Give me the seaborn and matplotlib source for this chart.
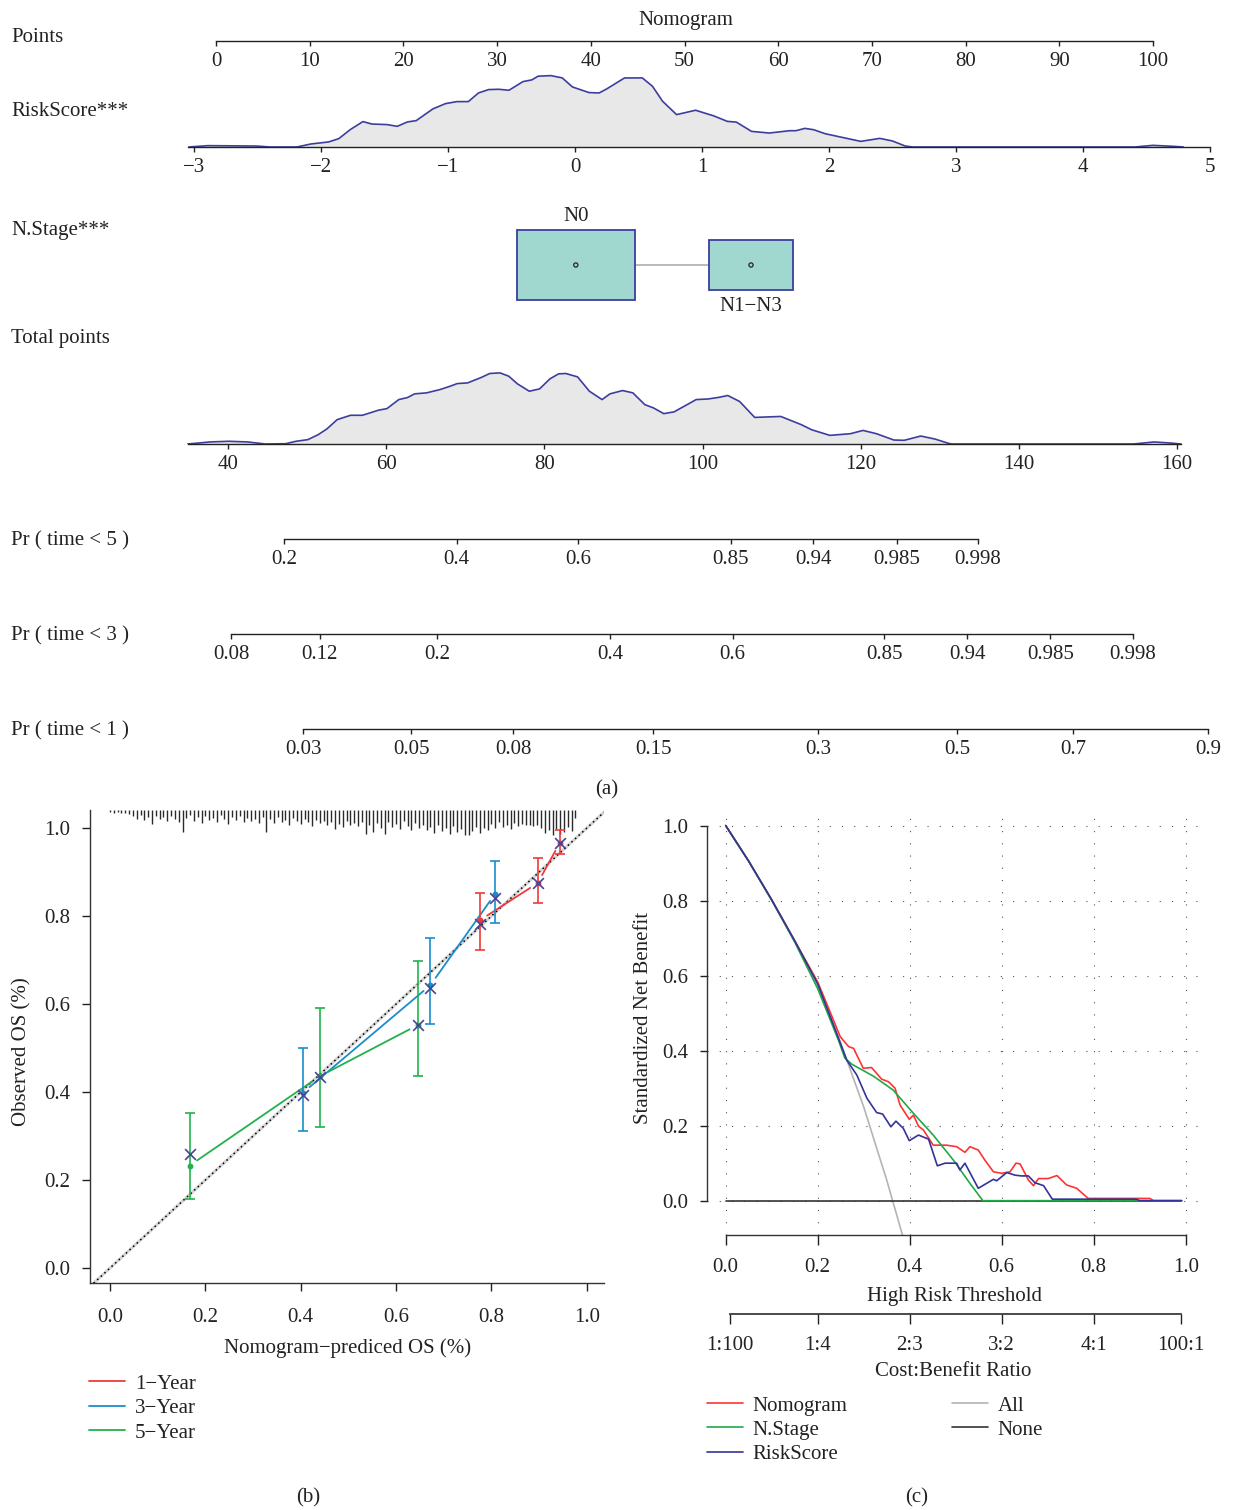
import numpy as np
import pandas as pd
import matplotlib
matplotlib.use("Agg")
import matplotlib.pyplot as plt
import seaborn as sns

# --------------------------------
# Data
# --------------------------------

# (a) nomogram scales
points_ticks = [0, 10, 20, 30, 40, 50, 60, 70, 80, 90, 100]
riskscore_ticks = [-3, -2, -1, 0, 1, 2, 3, 4, 5]
total_ticks = [40, 60, 80, 100, 120, 140, 160]

riskscore_x = [-3.04, -2.89, -2.51, -2.40, -2.19, -2.08, -1.94, -1.86, -1.77, -1.67,
               -1.60, -1.48, -1.40, -1.32, -1.25, -1.12, -1.02, -0.93, -0.84, -0.76,
               -0.68, -0.60, -0.52, -0.41, -0.34, -0.29, -0.19, -0.10, -0.02, 0.11,
               0.19, 0.25, 0.39, 0.53, 0.61, 0.69, 0.80, 0.95, 1.03, 1.09,
               1.20, 1.27, 1.39, 1.53, 1.69, 1.74, 1.81, 1.88, 1.97, 2.09,
               2.25, 2.40, 2.50, 2.60, 2.66, 4.41, 4.55, 4.71, 4.79]
riskscore_dens = [0, 1.4, 1.0, 0, 0, 3.1, 5.2, 8.6, 17.9, 26.2,
                  23.7, 23.1, 21.3, 25.8, 27.2, 39.2, 44.7, 46.8, 46.8, 55.7,
                  59.2, 59.5, 58.5, 67.4, 69.2, 73.0, 73.6, 71.2, 61.9, 56.1,
                  55.7, 59.9, 71.2, 71.2, 62.6, 47.1, 33.4, 37.9, 34.6, 32.2,
                  26.4, 25.7, 16.1, 14.4, 16.8, 16.8, 19.2, 17.8, 13.7, 10.3,
                  5.8, 8.9, 6.2, 1.0, 0, 0, 1.7, 0.7, 0]

total_x = [34.9, 37.7, 40.1, 42.5, 44.7, 47.3, 48.6, 50.1, 51.4, 52.5,
           53.8, 55.5, 57.0, 59.0, 60.1, 61.6, 62.7, 63.6, 65.1, 66.8,
           68.1, 69.0, 70.3, 72.0, 73.1, 74.4, 75.5, 76.6, 78.1, 79.4,
           80.7, 81.8, 82.7, 84.2, 85.7, 87.3, 88.3, 89.9, 91.2, 92.7,
           93.8, 95.1, 96.4, 97.9, 99.2, 100.7, 102.0, 103.2, 104.7, 106.6,
           109.9, 112.5, 113.8, 116.1, 118.7, 120.3, 122.0, 124.2, 125.5, 127.6,
           129.4, 131.1, 131.5, 154.5, 157.1, 159.2, 160.5]
total_dens = [0, 2.1, 2.8, 2.1, 0, 0.3, 2.8, 4.5, 9.6, 15.5,
              25.1, 29.6, 29.6, 34.8, 36.5, 45.8, 47.9, 51.7, 52.7, 56.1,
              59.6, 62.3, 63.0, 68.5, 72.7, 73.3, 69.9, 62.0, 54.4, 56.8,
              67.1, 72.3, 72.7, 69.2, 54.4, 45.8, 51.7, 55.1, 52.7, 40.6,
              37.2, 31.3, 33.1, 39.9, 45.8, 46.4, 48.0, 50.0, 43.8, 27.4,
              28.4, 19.9, 14.7, 8.9, 10.6, 14.0, 10.6, 4.1, 3.8, 8.2,
              5.1, 0.7, 0, 0, 2.1, 1.0, 0]

nstage_levels = ["N0", "N1\u2212N3"]
nstage_points = [38.4, 57.1]
nstage_width = [12.6, 9.0]
nstage_height = [70, 50]

pr5_labels = ["0.2", "0.4", "0.6", "0.85", "0.94", "0.985", "0.998"]
pr5_pos = [47.1, 68.9, 84.3, 103.6, 114.0, 124.6, 134.8]
pr3_labels = ["0.08", "0.12", "0.2", "0.4", "0.6", "0.85", "0.94", "0.985", "0.998"]
pr3_pos = [40.4, 51.6, 66.4, 88.3, 103.8, 123.0, 133.5, 144.0, 154.4]
pr1_labels = ["0.03", "0.05", "0.08", "0.15", "0.3", "0.5", "0.7", "0.9"]
pr1_pos = [49.5, 63.2, 76.1, 93.8, 114.6, 132.2, 146.9, 163.9]

# (b) calibration
cal_years = ["1\u2212Year", "3\u2212Year", "5\u2212Year"]
cal_pred = [[0.775, 0.897, 0.943], [0.404, 0.672, 0.808], [0.167, 0.440, 0.645]]
cal_obs = [[0.790, 0.875, 0.966], [0.398, 0.643, 0.851], [0.233, 0.436, 0.552]]
cal_lo = [[0.722, 0.830, 0.942], [0.312, 0.554, 0.785], [0.156, 0.321, 0.437]]
cal_hi = [[0.852, 0.933, 0.995], [0.499, 0.751, 0.925], [0.352, 0.592, 0.698]]
cal_corr = [[0.783, 0.874, 0.967], [0.393, 0.637, 0.840], [0.259, 0.435, 0.552]]

rug_pred = [0.000, 0.008, 0.016, 0.024, 0.032, 0.040, 0.048, 0.056, 0.064, 0.072,
            0.080, 0.088, 0.096, 0.104, 0.112, 0.120, 0.128, 0.136, 0.144, 0.152,
            0.160, 0.168, 0.176, 0.184, 0.192, 0.200, 0.208, 0.216, 0.224, 0.232,
            0.240, 0.248, 0.256, 0.264, 0.272, 0.280, 0.288, 0.296, 0.304, 0.312,
            0.320, 0.328, 0.336, 0.344, 0.352, 0.360, 0.368, 0.376, 0.384, 0.392,
            0.400, 0.408, 0.416, 0.424, 0.432, 0.440, 0.448, 0.456, 0.464, 0.472,
            0.480, 0.488, 0.496, 0.504, 0.512, 0.520, 0.528, 0.536, 0.544, 0.552,
            0.560, 0.568, 0.576, 0.584, 0.592, 0.600, 0.608, 0.616, 0.624, 0.632,
            0.640, 0.648, 0.656, 0.664, 0.672, 0.680, 0.688, 0.696, 0.704, 0.712,
            0.720, 0.728, 0.736, 0.744, 0.752, 0.760, 0.768, 0.776, 0.784, 0.792,
            0.800, 0.808, 0.816, 0.824, 0.832, 0.840, 0.848, 0.856, 0.864, 0.872,
            0.880, 0.888, 0.896, 0.904, 0.912, 0.920, 0.928, 0.936, 0.944, 0.952,
            0.960, 0.968, 0.976]
rug_len = [2, 3, 2, 3, 3, 4, 6, 9, 5, 10,
           7, 14, 6, 9, 7, 11, 6, 9, 12, 22,
           8, 5, 11, 7, 13, 6, 10, 8, 12, 5,
           9, 14, 7, 10, 6, 12, 8, 11, 9, 13,
           7, 22, 9, 13, 7, 12, 10, 15, 8, 11,
           14, 9, 12, 16, 10, 13, 11, 15, 12, 19,
           14, 17, 11, 15, 13, 16, 12, 24, 15, 22,
           13, 18, 24, 12, 17, 14, 19, 11, 16, 20,
           13, 18, 15, 20, 17, 23, 15, 21, 18, 24,
           16, 22, 19, 25, 25, 21, 17, 23, 18, 20,
           14, 18, 12, 17, 15, 19, 13, 16, 14, 15,
           15, 16, 15, 18, 23, 20, 25, 19, 24, 22,
           17, 21, 8]

# (c) decision curves
thr_all = [0.0, 0.05, 0.10, 0.15, 0.20, 0.25, 0.30, 0.35, 0.385]
nb_all = [1.0, 0.905, 0.800, 0.690, 0.570, 0.420, 0.250, 0.055, -0.095]
thr_none = [0.0, 0.99]
nb_none = [0.0, 0.0]

thr_nomo = [0.0, 0.05, 0.10, 0.15, 0.20, 0.234, 0.249, 0.267, 0.278, 0.299,
            0.317, 0.339, 0.354, 0.368, 0.379, 0.399, 0.408, 0.419, 0.430, 0.451,
            0.480, 0.502, 0.520, 0.531, 0.549, 0.564, 0.582, 0.600, 0.618, 0.631,
            0.640, 0.658, 0.669, 0.680, 0.701, 0.720, 0.741, 0.763, 0.788, 0.922,
            0.930, 0.991]
nb_nomo = [1.0, 0.905, 0.802, 0.693, 0.583, 0.482, 0.437, 0.411, 0.406, 0.353,
           0.355, 0.324, 0.317, 0.300, 0.255, 0.217, 0.228, 0.199, 0.188, 0.148,
           0.148, 0.144, 0.129, 0.144, 0.135, 0.107, 0.077, 0.073, 0.077, 0.100,
           0.098, 0.055, 0.040, 0.059, 0.059, 0.067, 0.042, 0.033, 0.006, 0.006,
           0.0, 0.0]

thr_nstage = [0.0, 0.05, 0.10, 0.15, 0.20, 0.245, 0.259, 0.274, 0.321, 0.364,
              0.408, 0.451, 0.495, 0.531, 0.559, 0.991]
nb_nstage = [1.0, 0.905, 0.802, 0.690, 0.565, 0.428, 0.380, 0.364, 0.332, 0.295,
             0.233, 0.175, 0.108, 0.046, 0.0, 0.0]

thr_risk = [0.0, 0.05, 0.10, 0.15, 0.20, 0.240, 0.263, 0.285, 0.307, 0.328,
            0.341, 0.359, 0.370, 0.386, 0.399, 0.419, 0.441, 0.460, 0.477, 0.502,
            0.509, 0.520, 0.549, 0.582, 0.589, 0.611, 0.629, 0.643, 0.658, 0.672,
            0.691, 0.710, 0.893, 0.900, 0.991]
nb_risk = [1.0, 0.905, 0.802, 0.693, 0.578, 0.450, 0.375, 0.335, 0.273, 0.235,
           0.231, 0.197, 0.212, 0.193, 0.160, 0.175, 0.164, 0.093, 0.100, 0.100,
           0.082, 0.100, 0.033, 0.057, 0.053, 0.075, 0.068, 0.066, 0.066, 0.048,
           0.040, 0.004, 0.004, 0.0, 0.0]

cb_cost = [1, 1, 2, 3, 4, 100]
cb_benefit = [100, 4, 3, 2, 1, 1]

# --------------------------------
# Style
# --------------------------------

sns.set_theme(style="white")
plt.rcParams["font.family"] = ["Liberation Serif", "DejaVu Serif"]
plt.rcParams["font.size"] = 15
plt.rcParams["axes.unicode_minus"] = True

ink = "#222222"
navy = "#3d3d9e"
cal_colors = ["#f03a3a", "#1a8ccc", "#22b14c"]

W, H = 1237, 1510
fig = plt.figure(figsize=(W / 100, H / 100), dpi=100)


def fx(x):
    return x / W


def fy(y):
    return 1 - y / H


def add_ax(x0, y0, x1, y1):
    # pixel box, origin top-left
    return fig.add_axes([x0 / W, 1 - y1 / H, (x1 - x0) / W, (y1 - y0) / H])


def span(v0, p0, v1, p1):
    k = (v1 - v0) / (p1 - p0)
    return (v0 - p0 * k, v0 + (W - p0) * k)


def nomo_axis(y_line, scale, ticks, labels, bounds, height=10):
    ax = add_ax(0, y_line - height, W, y_line)
    ax.set_xlim(span(*scale))
    ax.patch.set_visible(False)
    for s in ["top", "left", "right"]:
        ax.spines[s].set_visible(False)
    ax.spines["bottom"].set_bounds(*bounds)
    ax.spines["bottom"].set_color(ink)
    ax.spines["bottom"].set_linewidth(1.0)
    ax.set_xticks(ticks, labels)
    ax.set_yticks([])
    ax.tick_params(axis="x", bottom=True, direction="out", length=3.5,
                   width=1, pad=4.3, colors=ink, labelsize=15)
    return ax


def text(x, y, s, **kw):
    kw.setdefault("color", ink)
    kw.setdefault("fontsize", 15)
    fig.text(fx(x), fy(y + 3), s, **kw)


# --------------------------------
# (a) Nomogram
# --------------------------------

points_scale = (0, 216, 100, 1153)
risk_scale = (-3, 194, 5, 1210)
total_scale = (40, 228, 160, 1177)

text(686, 17, "Nomogram", ha="center", va="center")
row_labels = ["Points", "RiskScore***", "N.Stage***", "Total points",
              "Pr ( time < 5 )", "Pr ( time < 3 )", "Pr ( time < 1 )"]
row_y = [34, 109, 228, 335, 538, 633, 728]
for lab, y in zip(row_labels, row_y):
    text(11, y, lab, ha="left", va="center")

nomo_axis(41, points_scale, points_ticks, [str(t) for t in points_ticks], (0, 100))

ax_rs = nomo_axis(147, risk_scale, riskscore_ticks, None, (-3.05, 5.0), height=80)
ax_rs.set_xticks(riskscore_ticks)
ax_rs.fill_between(riskscore_x, riskscore_dens, color="#e8e8e8", lw=0)
sns.lineplot(x=riskscore_x, y=riskscore_dens, ax=ax_rs, color=navy, lw=1.2,
             sort=False, estimator=None, legend=False)
ax_rs.set_ylim(0, 80 / 0.97)
ax_rs.set_xlabel("")
ax_rs.set_ylabel("")

ax_ns = add_ax(0, 220, W, 310)
ax_ns.set_xlim(span(*points_scale))
ax_ns.set_ylim(-45, 45)
ax_ns.axis("off")
ax_ns.plot(nstage_points, [0, 0], color="#b5b5b5", lw=1.3, zorder=1)
ax_ns.bar(nstage_points, nstage_height, width=nstage_width,
          bottom=[-h / 2 for h in nstage_height], color="#a0d8d0",
          edgecolor=navy, linewidth=1.3, zorder=2)
ax_ns.scatter(nstage_points, [0, 0], s=9, facecolor="none", edgecolor=ink,
              lw=0.9, zorder=3)
ax_ns.text(nstage_points[0], nstage_height[0] / 2 + 4, nstage_levels[0],
           ha="center", va="bottom", color=ink, fontsize=15)
ax_ns.text(nstage_points[1], -nstage_height[1] / 2 - 7, nstage_levels[1],
           ha="center", va="top", color=ink, fontsize=15)

ax_tp = nomo_axis(444, total_scale, total_ticks, [str(t) for t in total_ticks],
                  (34.9, 160.5), height=80)
ax_tp.fill_between(total_x, total_dens, color="#e8e8e8", lw=0)
sns.lineplot(x=total_x, y=total_dens, ax=ax_tp, color=navy, lw=1.2,
             sort=False, estimator=None, legend=False)
ax_tp.set_ylim(0, 80 / 0.97)
ax_tp.set_xlabel("")
ax_tp.set_ylabel("")

for y_line, pos, labs in [(539, pr5_pos, pr5_labels),
                          (634, pr3_pos, pr3_labels),
                          (729, pr1_pos, pr1_labels)]:
    nomo_axis(y_line, total_scale, pos, labs, (pos[0], pos[-1]))

text(607, 787, "(a)", ha="center", va="center")

# --------------------------------
# (b) Calibration
# --------------------------------

ax_b = add_ax(90, 810, 604, 1283)
ax_b.set_xlim(-0.042, 1.036)
ax_b.set_ylim(-0.034, 1.041)
ax_b.patch.set_visible(False)
for s in ["top", "right"]:
    ax_b.spines[s].set_visible(False)
for s in ["left", "bottom"]:
    ax_b.spines[s].set_color("#333333")
    ax_b.spines[s].set_linewidth(1.0)
ticks01 = [0.0, 0.2, 0.4, 0.6, 0.8, 1.0]
tick_lab = ["%.1f" % t for t in ticks01]
ax_b.set_xticks(ticks01, tick_lab)
ax_b.set_yticks(ticks01, tick_lab)
ax_b.tick_params(axis="both", bottom=True, left=True, direction="out",
                 length=5.8, width=1, colors=ink, labelsize=15)
ax_b.tick_params(axis="x", pad=12)
ax_b.tick_params(axis="y", pad=8.5)

diag = [-0.042, 1.036]
ax_b.plot(diag, diag, color="#d4d4d4", lw=2.2, zorder=1)
ax_b.plot(diag, diag, color="black", lw=1.1, ls=(0, (1, 2.2)), zorder=2)

ax_b.vlines(rug_pred, [1 - l / 473 for l in rug_len], 1,
            transform=ax_b.get_xaxis_transform(), color="#2a2a2a", lw=1.0)


def gap_line(ax, xs, ys, color, label, gap=9):
    pts = ax.transData.transform(np.column_stack([xs, ys]))
    inv = ax.transData.inverted()
    handle = None
    for i in range(len(xs) - 1):
        p0, p1 = pts[i], pts[i + 1]
        d = p1 - p0
        L = np.hypot(*d)
        if L <= 2 * gap:
            continue
        u = d / L
        seg = inv.transform(np.array([p0 + u * gap, p1 - u * gap]))
        ln, = ax.plot(seg[:, 0], seg[:, 1], color=color, lw=1.3, zorder=3)
        if handle is None:
            handle = ln
    return handle


cal_handles = []
for k in range(3):
    c = cal_colors[k]
    h = gap_line(ax_b, cal_pred[k], cal_obs[k], c, cal_years[k])
    cal_handles.append(h)
    obs = np.array(cal_obs[k])
    ax_b.errorbar(cal_pred[k], cal_obs[k],
                  yerr=[obs - np.array(cal_lo[k]), np.array(cal_hi[k]) - obs],
                  fmt="none", ecolor=c, elinewidth=1.2, capsize=3.5,
                  capthick=1.2, zorder=4)
    sns.scatterplot(x=cal_pred[k], y=cal_obs[k], ax=ax_b, color=c, s=18,
                    linewidth=0, zorder=5, legend=False)
    sns.scatterplot(x=cal_pred[k], y=cal_corr[k], ax=ax_b, color="#45459a",
                    marker="x", s=60, linewidth=1.2, zorder=6, legend=False)

text(22, 1049, "Observed OS (%)", ha="center", va="center", rotation=90)
text(348, 1345, "Nomogram\u2212prediced OS (%)", ha="center", va="center")

fig.legend(cal_handles, cal_years, loc="upper left",
           bbox_to_anchor=(fx(89), fy(1374)), frameon=False, borderpad=0,
           borderaxespad=0, handlelength=1.75, handletextpad=0.45,
           labelspacing=0.24, fontsize=15, labelcolor=ink)

text(308, 1495, "(b)", ha="center", va="center")

# --------------------------------
# (c) Decision curves
# --------------------------------

ax_c = add_ax(707, 814, 1200, 1235)
ax_c.set_xlim(-0.0407, 1.031)
ax_c.set_ylim(-0.0915, 1.031)
ax_c.patch.set_visible(False)
for s in ["top", "right"]:
    ax_c.spines[s].set_visible(False)
for s in ["left", "bottom"]:
    ax_c.spines[s].set_color("#333333")
    ax_c.spines[s].set_linewidth(1.0)
    ax_c.spines[s].set_bounds(0, 1)
ax_c.set_xticks(ticks01, tick_lab)
ax_c.set_yticks(ticks01, tick_lab)
ax_c.tick_params(axis="both", bottom=True, left=True, direction="out",
                 width=1, colors=ink, labelsize=15)
ax_c.tick_params(axis="x", length=7, pad=9.5)
ax_c.tick_params(axis="y", length=5, pad=8.5)
ax_c.grid(True, color="#555555", lw=0.8, ls=(0, (1, 10)))

dca = [("All", thr_all, nb_all, "#b4b4b4"),
       ("None", thr_none, nb_none, "#333333"),
       ("Nomogram", thr_nomo, nb_nomo, "#ff3333"),
       ("N.Stage", thr_nstage, nb_nstage, "#1faa46"),
       ("RiskScore", thr_risk, nb_risk, "#333399")]
dca_handles = {}
for name, tx, ny, col in dca:
    sns.lineplot(x=tx, y=ny, ax=ax_c, color=col, lw=1.2, sort=False,
                 estimator=None, legend=False)
    dca_handles[name] = ax_c.lines[-1]
ax_c.set_xlabel("")
ax_c.set_ylabel("")

cb_pos = [c / (c + b) for c, b in zip(cb_cost, cb_benefit)]
cb_labels = ["%d:%d" % (c, b) for c, b in zip(cb_cost, cb_benefit)]
sec = ax_c.secondary_xaxis(-79 / 421)
sec.set_xticks(cb_pos, cb_labels)
sec.spines["bottom"].set_bounds(cb_pos[0], cb_pos[-1])
sec.spines["bottom"].set_color("#333333")
sec.tick_params(direction="out", length=7, width=1, pad=8.5, colors=ink,
                labelsize=15)

text(643, 1015, "Standardized Net Benefit", ha="center", va="center", rotation=90)
text(955, 1294, "High Risk Threshold", ha="center", va="center")
text(953, 1369, "Cost:Benefit Ratio", ha="center", va="center")

order = ["Nomogram", "N.Stage", "RiskScore", "All", "None"]
fig.legend([dca_handles[n] for n in order], order, ncol=2, loc="upper left",
           bbox_to_anchor=(fx(707), fy(1396)), frameon=False, borderpad=0,
           borderaxespad=0, handlelength=1.75, handletextpad=0.45,
           columnspacing=5.0, labelspacing=0.22, fontsize=15, labelcolor=ink)

text(917, 1495, "(c)", ha="center", va="center")

fig.savefig("out.png", dpi=100)
